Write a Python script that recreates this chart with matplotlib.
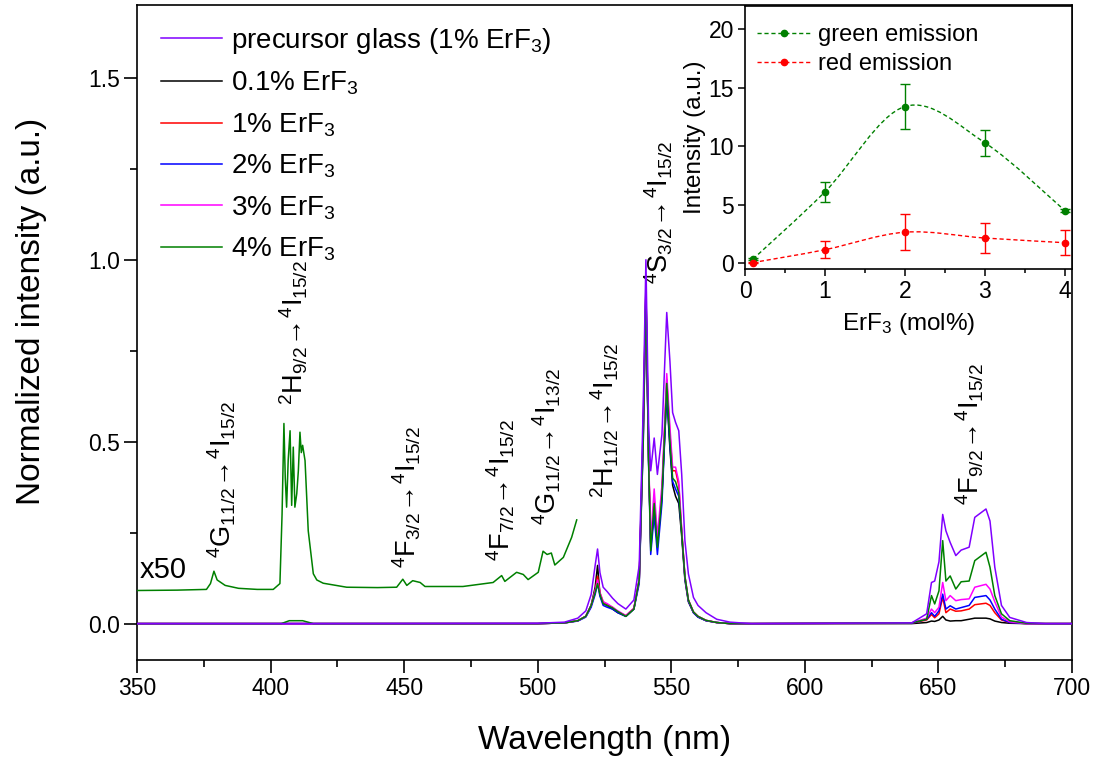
import numpy as np
import matplotlib
matplotlib.use("Agg")
import matplotlib.pyplot as plt
from matplotlib.path import Path
from matplotlib.patches import PathPatch
from matplotlib.lines import Line2D
from matplotlib.ticker import MultipleLocator

plt.rcParams['font.family'] = ['Liberation Sans', 'DejaVu Sans']
plt.rcParams['mathtext.default'] = 'regular'

# ---------------- main spectra ----------------
wavelength = [350, 378, 380, 400, 404, 407, 412, 416, 500, 510,
              515, 518, 520, 521.5, 522.4, 523.3, 524.5, 526, 528, 530,
              533, 536, 538, 539.5, 540.5, 541.5, 542.3, 543.6, 544.8, 546.5,
              548.3, 549.5, 550.5, 551.6, 552.8, 553.9, 555.1, 556.4, 558.3, 560,
              563, 567, 572, 580, 640, 645.6, 647.4, 648.6, 650.2, 651.6,
              652.8, 654.4, 656.5, 658.5, 661.5, 663.6, 667.8, 669.3, 671.1, 673.6,
              676.7, 683, 690, 700]

precursor = [0, 0, 0, 0, 0, 0, 0, 0, 0.001, 0.004,
             0.015, 0.035, 0.08, 0.16, 0.205, 0.14, 0.10, 0.088, 0.07, 0.055,
             0.04, 0.065, 0.16, 0.6, 1.0, 0.55, 0.42, 0.51, 0.41, 0.52,
             0.855, 0.72, 0.58, 0.553, 0.53, 0.41, 0.228, 0.137, 0.072, 0.05,
             0.03, 0.012, 0.004, 0, 0.002, 0.027, 0.113, 0.117, 0.17, 0.30,
             0.255, 0.223, 0.187, 0.202, 0.21, 0.292, 0.315, 0.282, 0.155, 0.05,
             0.017, 0.003, 0, 0]

erf3_01 = [0, 0, 0, 0, 0, 0, 0, 0, 0, 0.002,
           0.008, 0.02, 0.05, 0.10, 0.16, 0.08, 0.055, 0.05, 0.04, 0.03,
           0.02, 0.04, 0.12, 0.55, 0.93, 0.45, 0.22, 0.30, 0.22, 0.35,
           0.63, 0.48, 0.38, 0.35, 0.33, 0.24, 0.12, 0.06, 0.03, 0.018,
           0.008, 0.003, 0, 0, 0, 0.003, 0.007, 0.006, 0.01, 0.02,
           0.01, 0.007, 0.008, 0.008, 0.012, 0.015, 0.015, 0.013, 0.007, 0.003,
           0.001, 0, 0, 0]

erf3_1 = [0, 0, 0, 0, 0, 0, 0, 0, 0, 0.002,
          0.008, 0.02, 0.05, 0.09, 0.13, 0.085, 0.06, 0.052, 0.045, 0.033,
          0.022, 0.042, 0.12, 0.52, 0.92, 0.46, 0.21, 0.34, 0.22, 0.36,
          0.67, 0.52, 0.42, 0.42, 0.38, 0.255, 0.13, 0.065, 0.032, 0.02,
          0.009, 0.003, 0, 0, 0.001, 0.01, 0.025, 0.016, 0.027, 0.072,
          0.03, 0.04, 0.034, 0.035, 0.04, 0.052, 0.056, 0.05, 0.03, 0.01,
          0.003, 0, 0, 0]

erf3_2 = [0, 0, 0, 0, 0, 0, 0, 0, 0, 0.002,
          0.007, 0.018, 0.045, 0.08, 0.11, 0.075, 0.05, 0.045, 0.04, 0.03,
          0.02, 0.04, 0.11, 0.5, 0.91, 0.44, 0.19, 0.30, 0.19, 0.33,
          0.64, 0.49, 0.39, 0.37, 0.35, 0.25, 0.125, 0.062, 0.03, 0.018,
          0.008, 0.003, 0, 0, 0.001, 0.012, 0.03, 0.02, 0.035, 0.081,
          0.04, 0.049, 0.04, 0.044, 0.05, 0.072, 0.077, 0.065, 0.04, 0.012,
          0.003, 0, 0, 0]

erf3_3 = [0, 0, 0, 0, 0, 0, 0, 0, 0, 0.002,
          0.008, 0.02, 0.05, 0.09, 0.12, 0.085, 0.06, 0.055, 0.045, 0.035,
          0.022, 0.042, 0.12, 0.52, 0.92, 0.47, 0.23, 0.37, 0.24, 0.38,
          0.687, 0.54, 0.43, 0.43, 0.39, 0.26, 0.13, 0.065, 0.032, 0.02,
          0.009, 0.003, 0, 0, 0.002, 0.015, 0.04, 0.03, 0.045, 0.113,
          0.063, 0.077, 0.063, 0.066, 0.068, 0.10, 0.108, 0.095, 0.06, 0.018,
          0.005, 0, 0, 0]

erf3_4 = [0, 0, 0, 0, 0, 0.008, 0.008, 0, 0, 0.002,
          0.008, 0.02, 0.05, 0.085, 0.11, 0.08, 0.055, 0.05, 0.043, 0.033,
          0.02, 0.04, 0.12, 0.5, 0.90, 0.45, 0.20, 0.33, 0.21, 0.35,
          0.66, 0.50, 0.40, 0.39, 0.36, 0.25, 0.13, 0.065, 0.032, 0.02,
          0.009, 0.003, 0, 0, 0.002, 0.012, 0.077, 0.054, 0.09, 0.228,
          0.117, 0.131, 0.095, 0.115, 0.117, 0.173, 0.196, 0.155, 0.077, 0.027,
          0.008, 0.001, 0, 0]

# 4% ErF3 spectrum magnified x50 (350-515 nm)
x50_wl = [350, 365, 376, 377.5, 378.8, 380, 383, 388, 395, 401,
          403.5, 404.3, 405.0, 405.5, 406.0, 406.6, 407.3, 407.9, 408.5, 409.1,
          409.8, 410.4, 411.0, 411.5, 412.0, 412.9, 414.1, 416.0, 417.3, 419.7,
          428.5, 440, 447.2, 449.5, 451, 453.2, 456, 457.8, 472, 483.3,
          486.5, 487.7, 492.1, 494.6, 496.4, 500.2, 502, 503.5, 505.1, 506.4,
          509.6, 512.7, 514.6]
x50_int = [0.091, 0.092, 0.094, 0.11, 0.144, 0.12, 0.105, 0.097, 0.094, 0.094,
           0.11, 0.30, 0.55, 0.40, 0.32, 0.45, 0.53, 0.325, 0.485, 0.32,
           0.357, 0.42, 0.526, 0.47, 0.49, 0.448, 0.255, 0.137, 0.12, 0.111,
           0.10, 0.099, 0.10, 0.122, 0.105, 0.118, 0.113, 0.102, 0.102, 0.113,
           0.132, 0.116, 0.141, 0.135, 0.121, 0.141, 0.199, 0.19, 0.194, 0.161,
           0.182, 0.237, 0.285]

series_labels = ['precursor glass (1% ErF$_3$)', '0.1% ErF$_3$', '1% ErF$_3$',
                 '2% ErF$_3$', '3% ErF$_3$', '4% ErF$_3$']
series_colors = ['#8000FF', 'black', '#FF0000', '#0000FF', '#FF00FF', '#008000']

# transition labels
ARROW = r'$\!\rightarrow\!$'
trans_text = [r'$^{4}$G$_{11/2}$' + ARROW + r'$^{4}$I$_{15/2}$',
              r'$^{2}$H$_{9/2}$' + ARROW + r'$^{4}$I$_{15/2}$',
              r'$^{4}$F$_{3/2}$' + ARROW + r'$^{4}$I$_{15/2}$',
              r'$^{4}$F$_{7/2}$' + ARROW + r'$^{4}$I$_{15/2}$',
              r'$^{4}$G$_{11/2}$' + ARROW + r'$^{4}$I$_{13/2}$',
              r'$^{2}$H$_{11/2}$' + ARROW + r'$^{4}$I$_{15/2}$',
              r'$^{4}$S$_{3/2}$' + ARROW + r'$^{4}$I$_{15/2}$',
              r'$^{4}$F$_{9/2}$' + ARROW + r'$^{4}$I$_{15/2}$']
trans_x = [381.8, 408.8, 450.9, 486.2, 503.5, 525.2, 545.5, 661.8]
trans_y = [0.18, 0.60, 0.154, 0.173, 0.27, 0.346, 0.934, 0.325]

# ---------------- inset data ----------------
conc = [0.1, 1, 2, 3, 4]
green_int = [0.35, 6.1, 13.4, 10.3, 4.5]
green_err = [0.1, 0.88, 1.95, 1.1, 0.15]
red_int = [0.05, 1.15, 2.65, 2.15, 1.75]
red_err = [0.05, 0.75, 1.55, 1.27, 1.05]


def smooth_path(xs, ys):
    # Catmull-Rom through the points, drawn as cubic Bezier segments
    pts = np.column_stack([xs, ys]).astype(float)
    n = len(pts)
    verts = [pts[0]]
    codes = [Path.MOVETO]
    for i in range(n - 1):
        p0 = pts[i - 1] if i > 0 else pts[i]
        p1 = pts[i]
        p2 = pts[i + 1]
        p3 = pts[i + 2] if i + 2 < n else pts[i + 1]
        verts += [p1 + (p2 - p0) / 6, p2 - (p3 - p1) / 6, p2]
        codes += [Path.CURVE4] * 3
    return Path(verts, codes)


fig = plt.figure(figsize=(10.99, 7.63), dpi=100)
ax = fig.add_axes([137 / 1099, 1 - 660 / 763, 935 / 1099, 655 / 763])

spectra = [precursor, erf3_01, erf3_1, erf3_2, erf3_3, erf3_4]
handles = []
for i, (ys, lab, col) in enumerate(zip(spectra, series_labels, series_colors)):
    z = 10 if i == 0 else 3 + i
    ln, = ax.plot(wavelength, ys, color=col, lw=1.1, label=lab, zorder=z)
    handles.append(ln)

ax.plot(x50_wl, x50_int, color='#008000', lw=1.1, zorder=4)
ax.text(351.0, 0.108, 'x50', fontsize=21, ha='left', va='bottom')

for t, x, y in zip(trans_text, trans_x, trans_y):
    ax.text(x, y, t, rotation=90, fontsize=19.5, ha='center', va='bottom')

ax.set_xlim(350, 700)
ax.set_ylim(-0.1, 1.7)
ax.xaxis.set_major_locator(MultipleLocator(50))
ax.xaxis.set_minor_locator(MultipleLocator(25))
ax.yaxis.set_major_locator(MultipleLocator(0.5))
ax.yaxis.set_minor_locator(MultipleLocator(0.25))
ax.tick_params(which='both', direction='out', width=1.2, labelsize=16.5, pad=3)
ax.tick_params(which='major', length=9.5)
ax.tick_params(which='minor', length=5)
for s in ax.spines.values():
    s.set_linewidth(1.2)
ax.set_xlabel('Wavelength (nm)', fontsize=24)
ax.set_ylabel('Normalized intensity (a.u.)', fontsize=24)
ax.xaxis.set_label_coords(0.5, -0.100)
ax.yaxis.set_label_coords(-0.096, 0.532)

ax.legend(handles=handles, loc='upper left', bbox_to_anchor=(0.026, 0.968),
          frameon=False, fontsize=20, handlelength=2.2, handletextpad=0.32,
          labelspacing=0.5, borderaxespad=0, borderpad=0)

# ---------------- inset ----------------
ins = fig.add_axes([745 / 1099, 1 - 269 / 763, 327 / 1099, 263 / 763])
g_col = '#008000'
r_col = '#FF0000'
for ys, err, col in [(green_int, green_err, g_col), (red_int, red_err, r_col)]:
    ins.add_patch(PathPatch(smooth_path(conc, ys), fill=False, edgecolor=col,
                            lw=1.0, linestyle=(0, (3, 2))))
    ins.errorbar(conc, ys, yerr=err, fmt='o', ms=4.5, color=col,
                 ecolor=col, elinewidth=1, capsize=3.5, capthick=1)

ins_handles = [Line2D([], [], color=g_col, ls=(0, (3, 2)), lw=1.0, marker='o', ms=4.5),
               Line2D([], [], color=r_col, ls=(0, (3, 2)), lw=1.0, marker='o', ms=4.5)]
ins.legend(ins_handles, ['green emission', 'red emission'], loc='upper left',
           bbox_to_anchor=(0.037, 0.93), frameon=False, fontsize=17,
           handlelength=2.3, handletextpad=0.3, labelspacing=0.3,
           borderaxespad=0, borderpad=0)

ins.set_xlim(0, 4.09)
ins.set_ylim(-0.5, 22)
ins.xaxis.set_major_locator(MultipleLocator(1))
ins.xaxis.set_minor_locator(MultipleLocator(0.5))
ins.yaxis.set_major_locator(MultipleLocator(5))
ins.tick_params(which='both', direction='out', width=1.1, labelsize=16.5, pad=3)
ins.tick_params(which='major', length=5)
ins.tick_params(which='minor', length=3)
for s in ins.spines.values():
    s.set_linewidth(1.2)
ins.set_xlabel('ErF$_3$ (mol%)', fontsize=17.5, labelpad=6)
ins.set_ylabel('Intensity (a.u.)', fontsize=17.5, labelpad=2)

fig.savefig('out.png', dpi=100)
